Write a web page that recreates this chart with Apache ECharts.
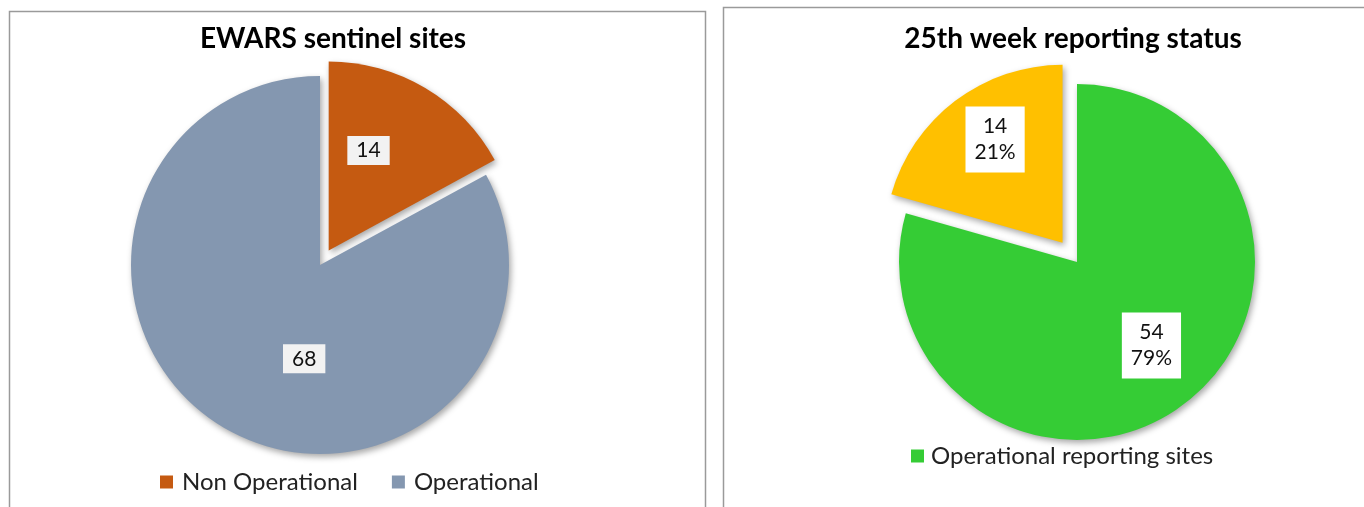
<!DOCTYPE html>
<html>
<head>
<meta charset="utf-8">
<script src="https://cdn.jsdelivr.net/npm/echarts@6/dist/echarts.min.js"></script>
<style>
  html, body { margin: 0; padding: 0; background: #fff; }
  #chart { width: 1364px; height: 507px; }
</style>
</head>
<body>
<div id="chart"></div>
<script>
// left chart
const sitesTitle = 'EWARS sentinel sites';
const sitesNames = ['Non Operational', 'Operational'];
const sitesValues = [14, 68];
const sitesColors = ['#C55A11', '#8497B0'];

// right chart
const reportTitle = '25th week reporting status';
const reportNames = ['Operational reporting sites', 'Non reporting sites'];
const reportValues = [54, 14];
const reportColors = ['#35CC35', '#FFC000'];
const reportLegend = ['Operational reporting sites'];

const font = 'Lato, "Liberation Sans", sans-serif';
const shadow = {
    shadowBlur: 6,
    shadowOffsetX: 2,
    shadowOffsetY: 3,
    shadowColor: 'rgba(0,0,0,0.35)'
};

function toData(names, values, colors, selectedIdx) {
    return names.map((n, i) => ({
        name: n,
        value: values[i],
        selected: i === selectedIdx,
        itemStyle: Object.assign({ color: colors[i] }, shadow)
    }));
}

const chart = echarts.init(document.getElementById('chart'), null, { renderer: 'canvas' });

// small nudges so labels sit where the reference puts them
const sitesNudge = [[-10, -16], [34, 10]];
const reportNudge = [[19, 10], [-12, -30]];

chart.setOption({
    animation: false,
    backgroundColor: '#fff',
    graphic: [
        { type: 'rect', shape: { x: 9.5, y: 11.5, width: 696, height: 520 },
          style: { fill: 'none', stroke: '#9a9a9a', lineWidth: 1.5 }, z: -1 },
        { type: 'rect', shape: { x: 723.5, y: 7.5, width: 700, height: 520 },
          style: { fill: 'none', stroke: '#9a9a9a', lineWidth: 1.5 }, z: -1 }
    ],
    title: [
        { text: sitesTitle, left: 328, top: 20, textAlign: 'center',
          textStyle: { fontFamily: font, fontWeight: 'bold', fontSize: 28, color: '#000' } },
        { text: reportTitle, left: 1068, top: 20, textAlign: 'center',
          textStyle: { fontFamily: font, fontWeight: 'bold', fontSize: 28, color: '#000' } }
    ],
    legend: [
        { data: sitesNames, left: 155, top: 465, icon: 'rect', itemWidth: 13, itemHeight: 13,
          itemGap: 34, selectedMode: false,
          textStyle: { fontFamily: font, fontSize: 24, color: '#222', padding: [0, 0, 0, 4] } },
        { data: reportLegend, left: 906, top: 439, icon: 'rect', itemWidth: 13, itemHeight: 13,
          selectedMode: false,
          textStyle: { fontFamily: font, fontSize: 24, color: '#222', padding: [0, 0, 0, 2] } }
    ],
    series: [
        {
            type: 'pie',
            center: [320, 265],
            radius: 189,
            startAngle: 90,
            clockwise: true,
            selectedMode: 'single',
            selectedOffset: 17,
            avoidLabelOverlap: false,
            data: toData(sitesNames, sitesValues, sitesColors, 0),
            label: {
                position: 'inside',
                formatter: '{c}',
                fontFamily: font,
                fontSize: 21,
                color: '#111',
                backgroundColor: '#F2F2F2',
                padding: [5, 9, 3, 9]
            },
            labelLine: { show: false },
            labelLayout: p => ({ dx: sitesNudge[p.dataIndex][0], dy: sitesNudge[p.dataIndex][1] }),
            emphasis: { disabled: true }
        },
        {
            type: 'pie',
            center: [1077, 262],
            radius: 178,
            startAngle: 90,
            clockwise: true,
            percentPrecision: 0,
            selectedMode: 'single',
            selectedOffset: 24,
            avoidLabelOverlap: false,
            data: toData(reportNames, reportValues, reportColors, 1),
            label: {
                position: 'inside',
                formatter: '{c}\n{d}%',
                fontFamily: font,
                fontSize: 21,
                lineHeight: 26,
                color: '#111',
                backgroundColor: '#fff',
                padding: [8, 9, 6, 9]
            },
            labelLine: { show: false },
            labelLayout: p => ({ dx: reportNudge[p.dataIndex][0], dy: reportNudge[p.dataIndex][1] }),
            emphasis: { disabled: true }
        }
    ]
});
</script>
</body>
</html>
